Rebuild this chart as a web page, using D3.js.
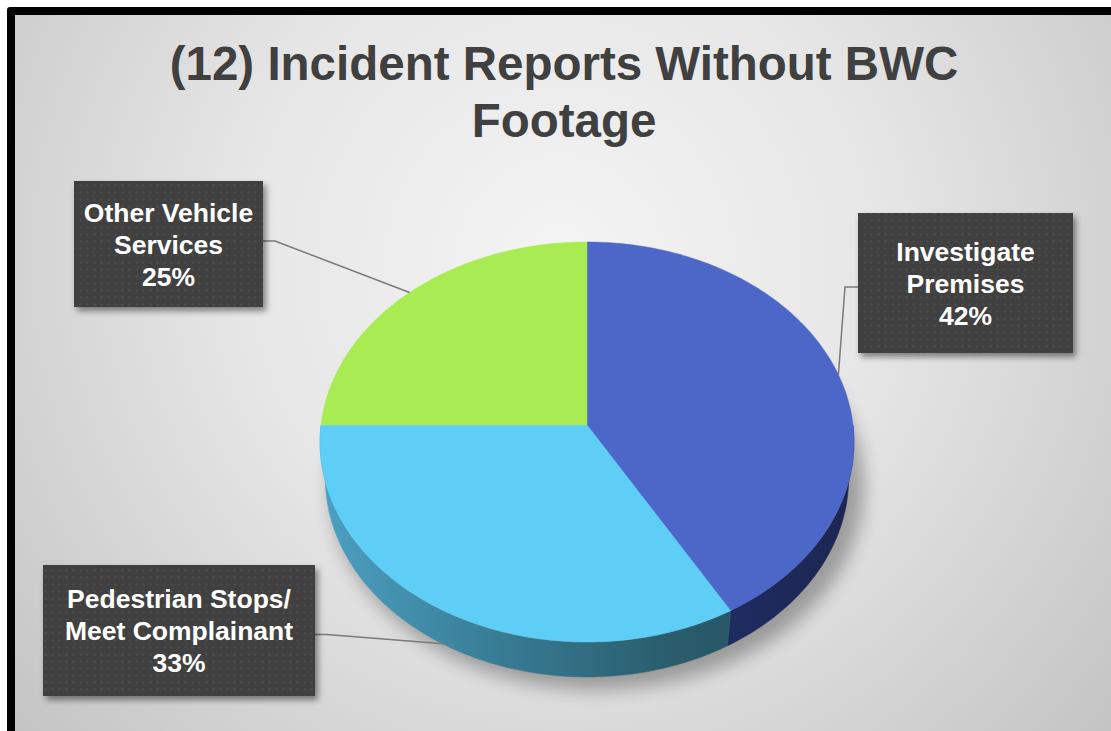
<!DOCTYPE html>
<html>
<head>
<meta charset="utf-8">
<script src="https://cdn.jsdelivr.net/npm/d3@7"></script>
<style>
  html, body { margin: 0; padding: 0; background: #fff; }
  svg { display: block; }
</style>
</head>
<body>
<div id="chart"></div>
<script>
// data
var categories = ['Investigate\nPremises', 'Pedestrian Stops/\nMeet Complainant', 'Other Vehicle\nServices']
var counts = [5, 4, 3]
var title = ['(12) Incident Reports Without BWC', 'Footage']

var topColours = ['#4d67c8', '#5ecef6', '#a8eb53']

var width = 1111, height = 731

var svg = d3.select('#chart').append('svg')
  .attr('width', width)
  .attr('height', height)

var defs = svg.append('defs')

var bg = defs.append('radialGradient')
  .attr('id', 'bg')
  .attr('gradientUnits', 'userSpaceOnUse')
  .attr('cx', 560).attr('cy', 260).attr('r', 720)
bg.append('stop').attr('offset', 0).attr('stop-color', '#f4f4f4')
bg.append('stop').attr('offset', 0.45).attr('stop-color', '#e6e6e6')
bg.append('stop').attr('offset', 1).attr('stop-color', '#c4c4c4')

// side shading, left -> right
var sideGrad = [
  [['#1f2c62', 0], ['#1c2650', 1]],
  [['#4ca0c2', 0], ['#3a8099', 0.3], ['#2a5d6d', 0.65], ['#234c5a', 1]],
  [['#7fb43d', 0], ['#5e8a2a', 1]]
]
sideGrad.forEach((stops, i) => {
  var g = defs.append('linearGradient')
    .attr('id', 'side' + i)
    .attr('gradientUnits', 'userSpaceOnUse')
    .attr('x1', 320).attr('x2', 855).attr('y1', 0).attr('y2', 0)
  if (i === 0) g.attr('x1', 720).attr('x2', 855)
  stops.forEach(s => g.append('stop').attr('offset', s[1]).attr('stop-color', s[0]))
})

var dots = defs.append('pattern')
  .attr('id', 'dots')
  .attr('patternUnits', 'userSpaceOnUse')
  .attr('width', 7).attr('height', 7)
dots.append('rect').attr('width', 7).attr('height', 7).attr('fill', '#3f3f3f')
dots.append('rect').attr('x', 2.5).attr('y', 2.5).attr('width', 2).attr('height', 2).attr('fill', '#4f4f4f')

var blur = defs.append('filter').attr('id', 'blur')
  .attr('x', -0.3).attr('y', -0.3).attr('width', 1.6).attr('height', 1.6)
blur.append('feGaussianBlur').attr('stdDeviation', 9)

var drop = defs.append('filter').attr('id', 'drop')
  .attr('x', -0.2).attr('y', -0.2).attr('width', 1.4).attr('height', 1.5)
drop.append('feDropShadow')
  .attr('dx', 3).attr('dy', 4).attr('stdDeviation', 3)
  .attr('flood-color', '#000').attr('flood-opacity', 0.45)

// frame
svg.append('rect')
  .attr('x', 7).attr('y', 7).attr('rx', 3)
  .attr('width', width + 20).attr('height', height + 20)
  .attr('fill', '#000')
svg.append('rect')
  .attr('x', 15).attr('y', 15)
  .attr('width', width).attr('height', height)
  .attr('fill', 'url(#bg)')

// title
svg.append('g')
  .selectAll('text')
  .data(title)
  .enter()
  .append('text')
  .attr('x', 564)
  .attr('y', (d, i) => 80 + i * 57)
  .attr('text-anchor', 'middle')
  .attr('font-family', "'Liberation Sans', Arial, sans-serif")
  .attr('font-weight', 'bold')
  .attr('font-size', 47.5)
  .attr('fill', '#404040')
  .text(d => d)

// 3d pie: perspective projection of a tilted disc
var cx = 587, cy = 425
var focal = 2080, dist = 7.82
var sinA = 0.7466, cosA = 0.665
var depth = 0.209

var project = (r, a, H) => {
  var X = r * Math.sin(a), D = -r * Math.cos(a)
  var v = D * sinA - H * cosA
  var z = dist - D * cosA - H * sinA
  return [cx + focal * X / z, cy + focal * v / z]
}

var arcPoints = (a0, a1, H, r) => {
  var n = Math.max(2, Math.ceil((a1 - a0) / (Math.PI / 180)))
  return d3.range(n + 1).map(k => project(r || 1, a0 + (a1 - a0) * k / n, H))
}

var line = d3.line()

var pie = d3.pie().sort(null).value(d => d)
var arcs = pie(counts)

var pieG = svg.append('g')

// soft shadow under the disc
pieG.append('path')
  .attr('d', line(arcPoints(0, 2 * Math.PI, -depth, 1.02)) + 'Z')
  .attr('transform', 'translate(10,8)')
  .attr('fill', '#000')
  .attr('opacity', 0.3)
  .attr('filter', 'url(#blur)')

// visible outer walls (front half)
arcs.forEach((a, i) => {
  var s = Math.max(a.startAngle, Math.PI / 2)
  var e = Math.min(a.endAngle, 3 * Math.PI / 2)
  if (e <= s) return
  var pts = arcPoints(s, e, 0).concat(arcPoints(s, e, -depth).reverse())
  pieG.append('path')
    .attr('d', line(pts) + 'Z')
    .attr('fill', 'url(#side' + i + ')')
    .attr('stroke', 'url(#side' + i + ')')
    .attr('stroke-width', 0.5)
})

// top faces
pieG.selectAll('path.top')
  .data(arcs)
  .enter()
  .append('path')
  .attr('class', 'top')
  .attr('d', a => line([project(0, 0, 0)].concat(arcPoints(a.startAngle, a.endAngle, 0))) + 'Z')
  .attr('fill', (a, i) => topColours[i])
  .attr('stroke', (a, i) => topColours[i])
  .attr('stroke-width', 0.5)

// labels
var boxes = [
  { x: 858, y: 213, w: 215, h: 140, side: 'left' },
  { x: 43, y: 565, w: 272, h: 131, side: 'right' },
  { x: 74, y: 181, w: 189, h: 126, side: 'right' }
]
var total = d3.sum(counts)
var pct = d3.format('.0%')

arcs.forEach((a, i) => {
  var b = boxes[i]
  var mid = (a.startAngle + a.endAngle) / 2
  var front = -Math.cos(mid) > 0.5
  var end = project(1, mid, front ? -depth * 0.95 : 0)
  var bx = b.side === 'right' ? b.x + b.w : b.x
  var elbowX = b.side === 'right' ? bx + 12 : bx - 13
  var by = b.y + b.h / 2 + (i === 2 ? -3 : 4)
  svg.append('path')
    .attr('d', line([[bx, by], [elbowX, by], end]))
    .attr('fill', 'none')
    .attr('stroke', '#7a7a7a')
    .attr('stroke-width', 1.5)
})

arcs.forEach((a, i) => {
  var b = boxes[i]
  var g = svg.append('g')
  g.append('rect')
    .attr('x', b.x).attr('y', b.y)
    .attr('width', b.w).attr('height', b.h)
    .attr('fill', 'url(#dots)')
    .attr('filter', 'url(#drop)')
  var lines = categories[i].split('\n').concat([pct(counts[i] / total)])
  g.selectAll('text')
    .data(lines)
    .enter()
    .append('text')
    .attr('x', b.x + b.w / 2)
    .attr('y', (d, k) => b.y + b.h / 2 + 9.5 + (k - (lines.length - 1) / 2) * 32)
    .attr('text-anchor', 'middle')
    .attr('font-family', "'Liberation Sans', Arial, sans-serif")
    .attr('font-weight', 'bold')
    .attr('font-size', 26.5)
    .attr('fill', '#fff')
    .text(d => d)
})
</script>
</body>
</html>
